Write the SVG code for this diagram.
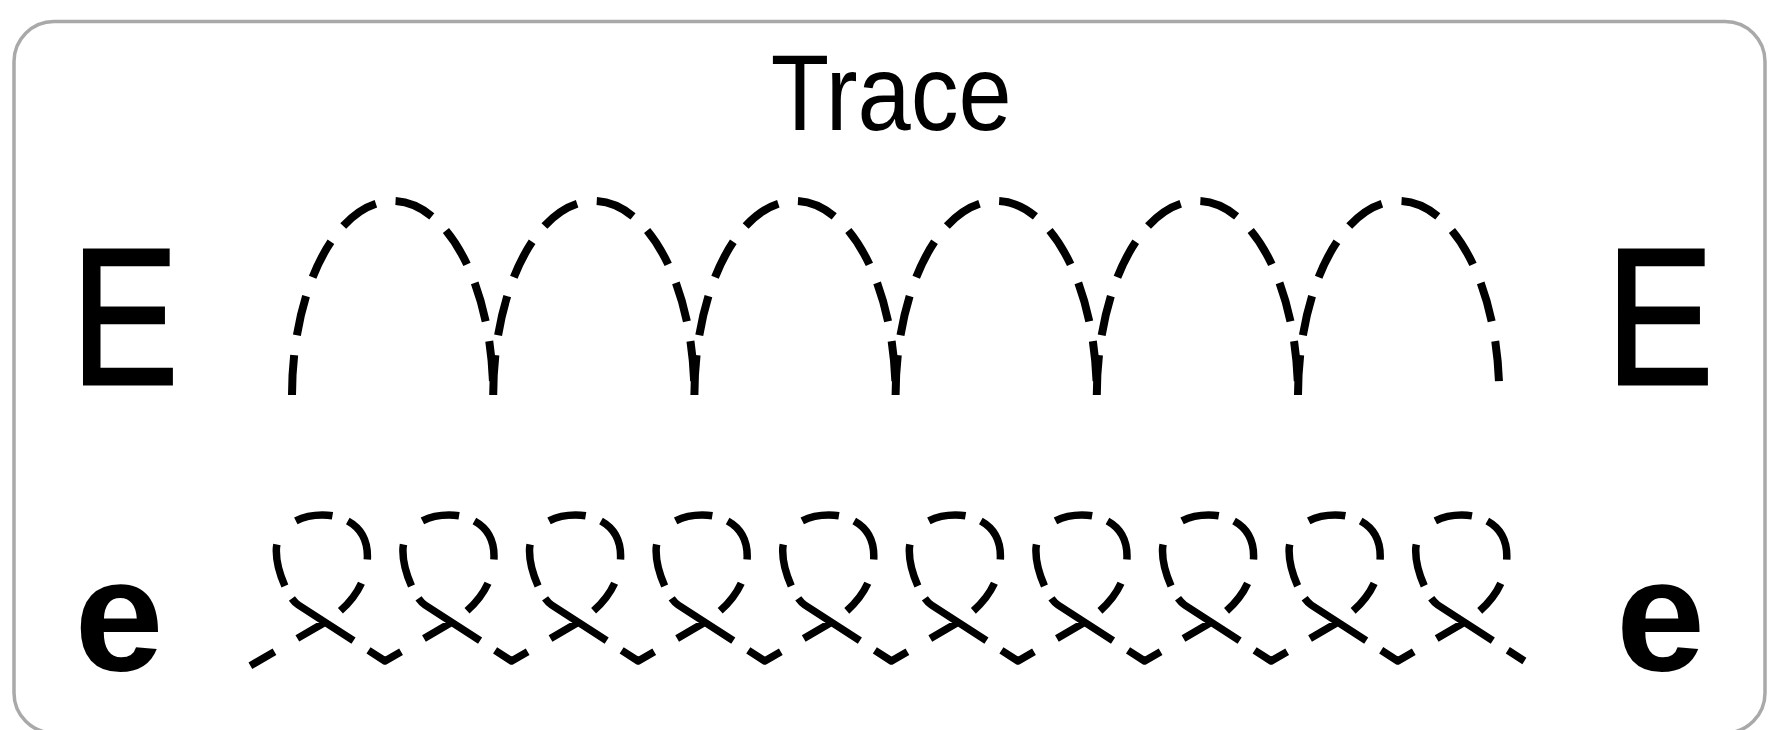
<svg xmlns="http://www.w3.org/2000/svg" width="1774" height="730" viewBox="0 0 1774 730">
  <style>
    .bg{fill:#ffffff}
    .frame{fill:#ffffff;stroke:#a9a9a9;stroke-width:3.5}
    .trace{fill:none;stroke:#000000;stroke-linecap:butt}
    .arch{stroke-width:8;stroke-dasharray:40 20}
    .loops{stroke-width:7.5;stroke-linejoin:round;stroke-dasharray:37.7 26.1 29.2 21.3 34.4 24.3 45 16 37 31 42 14 74 17.6;stroke-dashoffset:10.25}
    .title{font-family:"Liberation Sans",Arial,sans-serif;font-size:107px;fill:#000000}
    .cap{font-family:"Liberation Sans",Arial,sans-serif;font-size:195.5px;fill:#000000;stroke:#000000;stroke-width:3;stroke-linejoin:miter}
    .low{font-family:"Liberation Sans",Arial,sans-serif;font-size:160px;font-weight:bold;fill:#000000}
  </style>
  <defs>
    <path id="arch-shape" class="trace arch" pathLength="474" d="M 0,395 A 100.6,194 0 0 1 201.2,395"/>
  </defs>
  <rect class="bg" x="0" y="0" width="1774" height="730"/>
  <g id="frame">
    <rect class="frame" x="14" y="21.5" width="1751" height="711.5" rx="40" ry="40"/>
  </g>
  <g id="title">
    <text class="title" x="770.8" y="130" textLength="240.9" lengthAdjust="spacingAndGlyphs">Trace</text>
  </g>
  <g id="upper-E-left">
    <text class="cap" x="71.1" y="383.5" textLength="107.6" lengthAdjust="spacingAndGlyphs">E</text>
  </g>
  <g id="upper-E-right">
    <text class="cap" x="1606.1" y="383.5" textLength="107.6" lengthAdjust="spacingAndGlyphs">E</text>
  </g>
  <g id="lower-e-left">
    <text class="low" x="74.5" y="669.5">e</text>
  </g>
  <g id="lower-e-right">
    <text class="low" x="1616" y="669.5">e</text>
  </g>
  <g id="arches">
    <use href="#arch-shape" x="292"/>
    <use href="#arch-shape" x="493.2"/>
    <use href="#arch-shape" x="694.4"/>
    <use href="#arch-shape" x="895.6"/>
    <use href="#arch-shape" x="1096.8"/>
    <use href="#arch-shape" x="1298"/>
  </g>
  <g id="loops">
    <path class="trace loops" pathLength="4505.25" d="M 250.4,665.645 l 70,-40.645 c 28,-16 47,-40 47,-69 c 0,-26 -19,-41 -45,-41 c -24,0 -44,12 -46,33 c -1,18 10,49 22,57 l 86.6,56
      l 62,-36 c 28,-16 47,-40 47,-69 c 0,-26 -19,-41 -45,-41 c -24,0 -44,12 -46,33 c -1,18 10,49 22,57 l 86.6,56
      l 62,-36 c 28,-16 47,-40 47,-69 c 0,-26 -19,-41 -45,-41 c -24,0 -44,12 -46,33 c -1,18 10,49 22,57 l 86.6,56
      l 62,-36 c 28,-16 47,-40 47,-69 c 0,-26 -19,-41 -45,-41 c -24,0 -44,12 -46,33 c -1,18 10,49 22,57 l 86.6,56
      l 62,-36 c 28,-16 47,-40 47,-69 c 0,-26 -19,-41 -45,-41 c -24,0 -44,12 -46,33 c -1,18 10,49 22,57 l 86.6,56
      l 62,-36 c 28,-16 47,-40 47,-69 c 0,-26 -19,-41 -45,-41 c -24,0 -44,12 -46,33 c -1,18 10,49 22,57 l 86.6,56
      l 62,-36 c 28,-16 47,-40 47,-69 c 0,-26 -19,-41 -45,-41 c -24,0 -44,12 -46,33 c -1,18 10,49 22,57 l 86.6,56
      l 62,-36 c 28,-16 47,-40 47,-69 c 0,-26 -19,-41 -45,-41 c -24,0 -44,12 -46,33 c -1,18 10,49 22,57 l 86.6,56
      l 62,-36 c 28,-16 47,-40 47,-69 c 0,-26 -19,-41 -45,-41 c -24,0 -44,12 -46,33 c -1,18 10,49 22,57 l 86.6,56
      l 62,-36 c 28,-16 47,-40 47,-69 c 0,-26 -19,-41 -45,-41 c -24,0 -44,12 -46,33 c -1,18 10,49 22,57 l 86.6,56"/>
  </g>
</svg>
